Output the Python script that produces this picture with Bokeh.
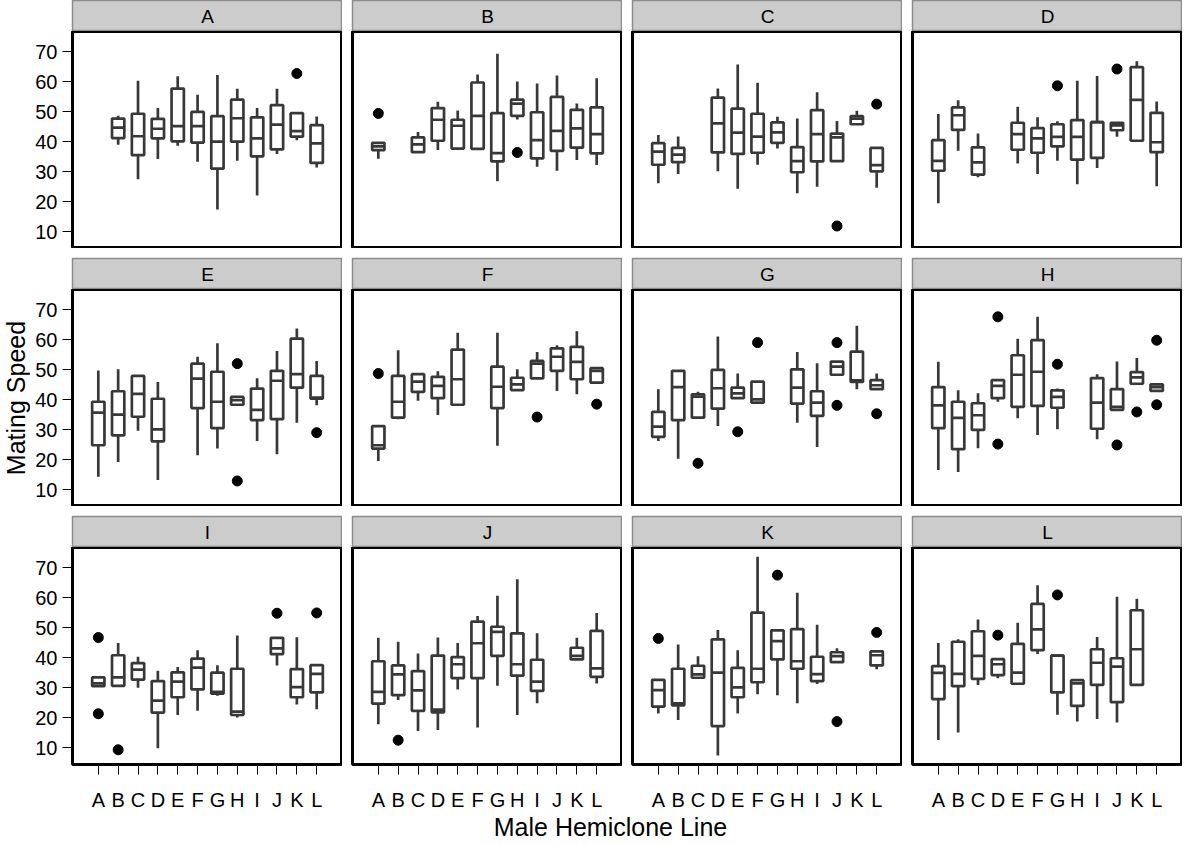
import math
from bokeh.plotting import figure
from bokeh.models import ColumnDataSource, FactorRange, Range1d, FixedTicker
from bokeh.layouts import row, column
from bokeh.embed import file_html
from bokeh.resources import INLINE
from bokeh.core.properties import value

# ---------------- data ----------------
panels = list("ABCDEFGHIJKL")          # female hemiclone line (one panel each)
males = list("ABCDEFGHIJKL")           # male hemiclone line (x categories)
y_ticks = [10, 20, 30, 40, 50, 60, 70]
y_title = "Mating Speed"
x_title = "Male Hemiclone Line"

N = None
# lower whisker end, one row per panel, one column per male line
whisker_lo = [
    [N, 39.1, 27.6, 34.3, 38.7, 33.4, 17.5, 33.7, 22.2, 36.0, 40.6, 31.5],
    [34.4, N, 36.4, 37.3, 37.6, 37.3, 26.9, 47.5, 31.7, 30.4, 34.0, 32.3],
    [26.2, 29.3, N, 30.2, 24.4, 32.4, 37.8, 22.9, 25.1, 33.6, 45.9, 24.7],
    [19.6, 37.1, 28.2, N, 32.8, 29.3, 33.7, 25.9, 31.3, 41.7, 40.4, 25.2],
    [14.4, 19.3, 29.7, 13.3, N, 21.6, 23.8, 38.4, 26.3, 21.9, 32.4, 38.2],
    [19.7, 33.6, 39.7, 35.0, 38.0, N, 24.7, 43.3, 47.2, 43.0, 41.9, 45.8],
    [26.3, 20.4, 34.1, 31.3, 40.6, 39.1, N, 32.4, 24.3, 48.4, 43.6, 43.6],
    [16.7, 16.0, 23.9, 39.4, 33.9, 28.3, 30.2, N, 26.9, 36.7, 45.4, 43.0],
    [30.6, 30.7, 30.1, 9.9, 21.0, 22.4, 27.4, 20.2, N, 37.5, 24.5, 22.9],
    [17.9, 26.0, 15.7, 16.0, 29.5, 16.8, 30.7, 21.0, 24.9, N, 39.5, 31.5],
    [21.5, 19.3, 33.4, 7.5, 21.5, 27.9, 27.6, 24.9, 31.3, 38.6, N, 36.2],
    [12.7, 15.2, 31.0, 33.2, 31.4, 41.3, 21.1, 18.8, 19.7, 18.5, 31.0, N],
]
# first quartile (box bottom)
q1 = [
    [N, 41.3, 35.6, 41.2, 40.2, 39.8, 31.1, 40.1, 35.2, 37.5, 41.8, 33.0],
    [37.3, N, 36.6, 40.4, 37.8, 37.7, 33.5, 48.7, 34.5, 37.0, 38.1, 36.2],
    [32.4, 33.3, N, 36.5, 36.0, 36.4, 39.7, 29.9, 33.5, 33.6, 45.9, 30.2],
    [30.4, 44.0, 29.1, N, 37.4, 36.4, 38.5, 34.1, 34.7, 43.9, 40.4, 36.6],
    [24.9, 28.2, 34.4, 26.2, N, 37.3, 30.6, 38.4, 33.3, 33.6, 44.1, 40.4],
    [23.8, 34.1, 42.7, 40.6, 38.4, N, 37.3, 43.3, 47.2, 49.7, 46.9, 45.8],
    [27.7, 33.3, 34.1, 37.1, 40.6, 39.1, N, 38.8, 34.7, 48.4, 46.0, 43.6],
    [30.6, 23.6, 30.0, 40.6, 37.7, 38.0, 37.4, N, 30.4, 36.7, 45.4, 43.0],
    [30.6, 30.7, 32.8, 21.8, 26.9, 29.5, 28.1, 21.0, N, 41.3, 26.9, 28.5],
    [24.8, 27.6, 22.4, 21.9, 33.3, 33.3, 40.7, 34.1, 29.0, N, 39.5, 33.7],
    [23.8, 24.2, 33.4, 17.3, 26.9, 31.9, 39.5, 36.4, 32.3, 38.6, N, 37.5],
    [26.3, 30.6, 33.0, 34.3, 31.4, 42.6, 28.5, 24.0, 31.0, 25.3, 31.0, N],
]
# median
median = [
    [N, 44.8, 41.9, 44.4, 45.3, 45.3, 40.1, 47.9, 41.2, 45.8, 43.6, 39.5],
    [38.5, N, 39.2, 47.4, 45.4, 48.7, 36.3, 52.8, 40.6, 43.7, 44.5, 42.6],
    [36.8, 35.8, N, 46.2, 43.1, 41.8, 43.2, 33.6, 42.6, 41.5, 47.8, 32.3],
    [33.7, 48.9, 33.2, N, 42.6, 41.2, 41.7, 41.7, 46.6, 45.5, 54.0, 39.9],
    [35.8, 35.1, 42.0, 30.2, N, 47.1, 39.4, 39.9, 36.7, 46.4, 48.6, 40.8],
    [24.9, 39.4, 46.1, 44.7, 46.9, N, 44.4, 45.2, 52.1, 54.4, 52.7, 49.7],
    [31.1, 44.3, 41.1, 43.9, 42.2, 40.2, N, 44.1, 39.1, 51.1, 46.5, 44.9],
    [38.2, 34.0, 34.9, 44.7, 48.4, 49.4, 41.0, N, 39.1, 37.7, 47.5, 44.3],
    [31.5, 33.5, 36.1, 25.8, 32.1, 36.8, 28.7, 22.1, N, 43.2, 30.3, 34.7],
    [28.7, 34.5, 29.2, 22.8, 37.9, 44.9, 48.7, 37.9, 32.1, N, 40.7, 36.5],
    [29.3, 24.9, 34.5, 35.1, 30.2, 36.4, 45.6, 38.9, 34.6, 40.6, N, 40.9],
    [35.0, 34.7, 40.7, 37.9, 35.1, 49.5, 40.8, 31.5, 38.4, 37.1, 42.9, N],
]
# third quartile (box top)
q3 = [
    [N, 47.8, 49.4, 47.7, 57.8, 50.0, 48.6, 54.1, 48.2, 52.3, 49.6, 45.6],
    [39.7, N, 41.5, 51.3, 47.4, 59.8, 49.6, 54.1, 49.9, 55.0, 50.7, 51.5],
    [39.6, 38.0, N, 54.8, 51.1, 49.4, 46.5, 38.3, 50.6, 42.8, 48.6, 38.0],
    [40.6, 51.5, 38.2, N, 46.4, 44.6, 45.9, 47.3, 46.6, 46.4, 64.9, 49.7],
    [39.4, 42.9, 48.0, 40.4, N, 52.1, 49.4, 41.0, 43.8, 49.7, 60.4, 48.0],
    [31.3, 48.0, 48.6, 47.7, 56.8, N, 51.1, 47.4, 53.0, 57.2, 57.7, 50.6],
    [36.0, 49.7, 41.9, 50.0, 44.1, 46.1, N, 50.2, 42.9, 52.8, 56.1, 46.6],
    [44.3, 39.4, 38.9, 46.6, 54.9, 59.9, 43.2, N, 47.3, 43.6, 49.3, 45.2],
    [33.5, 40.9, 38.3, 32.3, 35.2, 39.8, 35.1, 36.4, N, 46.7, 36.3, 37.6],
    [38.9, 37.5, 35.6, 40.8, 40.3, 52.1, 50.4, 48.2, 39.4, N, 43.4, 49.0],
    [32.7, 36.4, 37.4, 46.2, 36.7, 55.1, 49.2, 49.6, 40.4, 41.9, N, 42.2],
    [37.3, 45.4, 48.9, 39.6, 44.7, 58.0, 40.8, 32.6, 42.9, 39.9, 55.9, N],
]
# upper whisker end
whisker_hi = [
    [N, 48.7, 60.4, 51.3, 61.9, 55.7, 62.3, 57.7, 51.3, 57.7, 49.6, 48.5],
    [39.7, N, 43.3, 53.4, 50.5, 62.5, 69.4, 60.1, 59.5, 62.1, 52.8, 61.2],
    [42.3, 41.8, N, 57.8, 65.8, 59.7, 48.4, 47.8, 56.6, 47.0, 50.4, 38.0],
    [49.3, 53.9, 42.8, N, 51.7, 48.2, 46.9, 60.4, 62.0, 46.4, 66.9, 53.5],
    [49.8, 50.2, 48.0, 46.0, N, 54.4, 58.9, 41.0, 47.2, 56.3, 63.8, 53.0],
    [31.3, 56.6, 48.6, 49.6, 62.4, N, 62.4, 50.2, 56.0, 58.2, 62.9, 50.6],
    [43.6, 49.7, 42.7, 61.1, 48.8, 46.1, N, 56.0, 52.2, 52.8, 64.7, 48.8],
    [52.7, 43.2, 42.2, 46.6, 60.4, 67.7, 43.8, N, 48.6, 52.8, 54.0, 45.2],
    [33.5, 45.0, 40.4, 35.7, 37.0, 42.6, 37.6, 47.5, N, 46.7, 46.9, 37.6],
    [46.7, 45.4, 41.5, 46.8, 45.0, 54.0, 60.7, 66.2, 48.2, N, 46.7, 55.0],
    [32.7, 44.5, 40.6, 49.3, 42.6, 73.7, 49.2, 61.7, 51.1, 43.2, N, 42.2],
    [45.0, 46.2, 52.8, 39.6, 51.7, 64.2, 40.8, 32.6, 47.0, 60.4, 59.7, N],
]
# outliers: panel -> list of (male line, value)
outlier_panel = ["A", "B", "B", "C", "C", "D", "D", "E", "E", "E", "F", "F", "F",
                 "G", "G", "G", "G", "G", "G", "H", "H", "H", "H", "H", "H", "H",
                 "I", "I", "I", "I", "I", "J", "K", "K", "K", "K", "L", "L"]
outlier_male = ["K", "A", "H", "J", "L", "G", "J", "H", "H", "L", "A", "I", "L",
                "C", "E", "F", "J", "J", "L", "D", "D", "G", "J", "K", "L", "L",
                "A", "A", "B", "J", "L", "B", "A", "G", "J", "L", "D", "G"]
outlier_value = [62.8, 49.5, 36.5, 12.0, 52.6, 58.7, 64.3, 52.1, 13.0, 29.1, 48.8, 34.3, 38.6,
                 18.9, 29.4, 59.1, 59.1, 38.2, 35.4, 67.7, 25.3, 51.9, 25.0, 36.0, 59.9, 38.4,
                 46.8, 21.4, 9.4, 54.9, 55.0, 12.6, 46.5, 67.6, 18.8, 48.5, 47.6, 61.0]

# ---------------- styling / layout ----------------
FONT = "Liberation Sans"
BOX = "#383838"
LW = 2.7
FW, FH = 270, 217
LEFT_AX, GAP, RIGHT = 42, 10, 0
STRIP_H, ROW_GAP, BOTTOM_AX = 31, 10, 46
LABEL_W, TITLE_H = 30, 26
GRID_W = LEFT_AX + FW + 3 * (GAP + FW) + RIGHT
TOTAL_H = 3 * (STRIP_H + FH) + 2 * ROW_GAP + BOTTOM_AX + TITLE_H


def borders(col):
    return dict(min_border_left=LEFT_AX if col == 0 else GAP,
                min_border_right=RIGHT if col == 3 else 0)


def make_strip(i):
    col, rw = i % 4, i // 4
    s = figure(x_range=Range1d(0, 1), y_range=Range1d(0, 1),
               frame_width=FW, frame_height=STRIP_H, min_border=0,
               min_border_top=0 if rw == 0 else ROW_GAP, min_border_bottom=0,
               x_axis_location=None, y_axis_location=None,
               toolbar_location=None, output_backend="svg", **borders(col))
    s.background_fill_color = "#cccccc"
    s.border_fill_color = "white"
    s.outline_line_color = "#8c8c8c"
    s.outline_line_width = 1.5
    s.grid.visible = False
    s.text(x=[0.5], y=[0.5], text=[panels[i]], text_align="center",
           text_baseline="middle", text_font=value(FONT),
           text_font_size="19px", text_color="black")
    return s


def make_panel(i):
    col, rw = i % 4, i // 4
    p = figure(x_range=FactorRange(factors=males, range_padding=0.8,
                                   range_padding_units="absolute"),
               y_range=Range1d(4.5, 76.8),
               frame_width=FW, frame_height=FH, min_border=0,
               min_border_top=0, min_border_bottom=BOTTOM_AX if rw == 2 else 0,
               x_axis_location="below" if rw == 2 else None,
               y_axis_location="left" if col == 0 else None,
               toolbar_location=None, output_backend="svg", **borders(col))
    p.grid.visible = False
    p.background_fill_color = "white"
    p.border_fill_color = "white"
    p.outline_line_color = "black"
    p.outline_line_width = 3

    idx = [j for j in range(12) if median[i][j] is not None]
    src = ColumnDataSource(dict(
        x=[males[j] for j in idx],
        lo=[whisker_lo[i][j] for j in idx],
        q1=[q1[i][j] for j in idx],
        med=[median[i][j] for j in idx],
        q3=[q3[i][j] for j in idx],
        hi=[whisker_hi[i][j] for j in idx],
    ))
    p.segment(x0="x", y0="q3", x1="x", y1="hi", source=src,
              line_color=BOX, line_width=LW)
    p.segment(x0="x", y0="lo", x1="x", y1="q1", source=src,
              line_color=BOX, line_width=LW)
    p.vbar(x="x", bottom="q1", top="q3", width=0.62, source=src,
           fill_color="white", line_color=BOX, line_width=LW)
    p.vbar(x="x", bottom="med", top="med", width=0.62, source=src,
           fill_color=None, line_color=BOX, line_width=LW)

    ok = [k for k in range(len(outlier_panel)) if outlier_panel[k] == panels[i]]
    if ok:
        osrc = ColumnDataSource(dict(x=[outlier_male[k] for k in ok],
                                     y=[outlier_value[k] for k in ok]))
        p.scatter(x="x", y="y", source=osrc, size=10,
                  fill_color="black", line_color="black")

    if col == 0:
        ax = p.yaxis[0]
        ax.ticker = FixedTicker(ticks=y_ticks)
        ax.axis_line_color = None
        ax.major_tick_out = 10
        ax.major_tick_in = 0
        ax.minor_tick_out = 0
        ax.minor_tick_in = 0
        ax.major_tick_line_color = "black"
        ax.major_tick_line_width = 1
        ax.major_label_standoff = 5
        ax.major_label_text_font = FONT
        ax.major_label_text_font_size = "20px"
        ax.major_label_text_color = "black"
    if rw == 2:
        ax = p.xaxis[0]
        ax.axis_line_color = None
        ax.major_tick_out = 10
        ax.major_tick_in = 0
        ax.major_tick_line_color = "black"
        ax.major_tick_line_width = 1
        ax.major_label_standoff = 14
        ax.major_label_text_font = FONT
        ax.major_label_text_font_size = "20px"
        ax.major_label_text_color = "black"
    return p


rows = []
for rw in range(3):
    rows.append(row([make_strip(rw * 4 + c) for c in range(4)], spacing=0))
    rows.append(row([make_panel(rw * 4 + c) for c in range(4)], spacing=0))

# x-axis title
tf = figure(x_range=Range1d(0, GRID_W), y_range=Range1d(0, TITLE_H),
            width=GRID_W, height=TITLE_H, min_border=0,
            x_axis_location=None, y_axis_location=None,
            toolbar_location=None, output_backend="svg")
tf.outline_line_color = None
tf.grid.visible = False
tf.text(x=[580], y=[TITLE_H / 2], text=[x_title], text_align="center",
        text_baseline="middle", text_font=value(FONT),
        text_font_size="25px", text_color="black")
rows.append(tf)
grid = column(rows, spacing=0)

# y-axis title, centred on the middle row of panels
mid_from_top = STRIP_H + FH + ROW_GAP + STRIP_H + FH / 2
lf = figure(x_range=Range1d(0, LABEL_W), y_range=Range1d(0, TOTAL_H),
            width=LABEL_W, height=TOTAL_H, min_border=0,
            x_axis_location=None, y_axis_location=None,
            toolbar_location=None, output_backend="svg")
lf.outline_line_color = None
lf.grid.visible = False
lf.text(x=[LABEL_W / 2], y=[TOTAL_H - mid_from_top], text=[y_title],
        angle=math.pi / 2, text_align="center", text_baseline="middle",
        text_font=value(FONT), text_font_size="25px", text_color="black")

layout = row([lf, grid], spacing=0)
open("out.html", "w").write(file_html(layout, INLINE))
